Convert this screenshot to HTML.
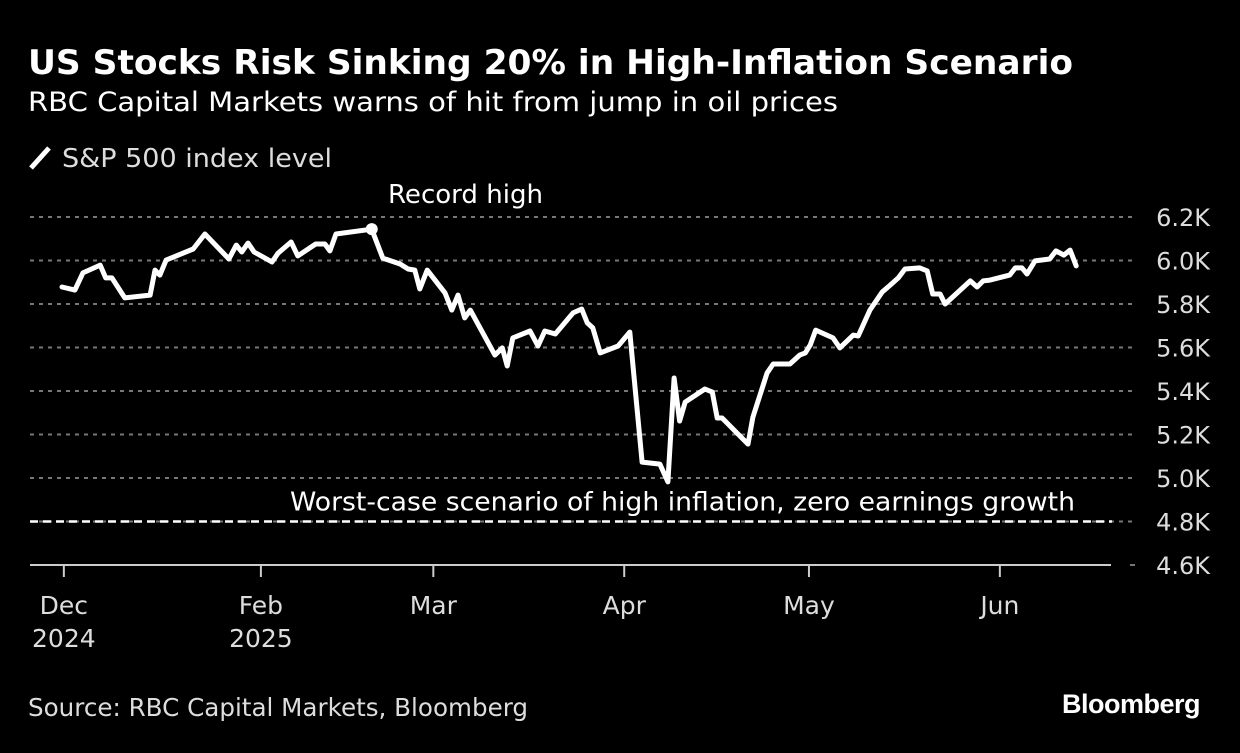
<!DOCTYPE html>
<html><head><meta charset="utf-8"><style>
html,body{margin:0;padding:0;background:#000;}
body{width:1240px;height:748px;overflow:hidden;font-family:"Liberation Sans","DejaVu Sans",sans-serif;}
</style></head><body>
<svg id="chart" width="1240" height="748" viewBox="0 0 1240 748" xmlns="http://www.w3.org/2000/svg" font-family="'DejaVu Sans','Liberation Sans',sans-serif">
<text x="28" y="74" fill="#fff" font-size="34" font-weight="bold" textLength="1045" lengthAdjust="spacingAndGlyphs">US Stocks Risk Sinking 20% in High-Inflation Scenario</text>
<text x="28" y="111" fill="#fff" font-size="27" textLength="810" lengthAdjust="spacingAndGlyphs">RBC Capital Markets warns of hit from jump in oil prices</text>
<g>
<line x1="31" y1="168" x2="49" y2="148" stroke="#fff" stroke-width="5"/>
<text x="62" y="167" fill="#ddd" font-size="26" textLength="270" lengthAdjust="spacingAndGlyphs">S&amp;P 500 index level</text>
</g>
<g id="grid"></g>
<g id="axes"></g>
<g id="marks"></g>
<text x="28" y="716" fill="#ddd" font-size="25" textLength="500" lengthAdjust="spacingAndGlyphs">Source: RBC Capital Markets, Bloomberg</text>
<text x="1200" y="713" text-anchor="end" fill="#fff" font-size="27" font-weight="bold" font-family="'Liberation Sans',sans-serif" letter-spacing="-0.5">Bloomberg</text>
</svg>
<script>
// Data: days since Jan 1 2025 and S&P 500 levels
const dayOffsets = [-1.3,0.8,2.1,4.9,5.8,6.8,8.9,13,13.8,14.6,15.6,20,21.9,25.8,27,27.9,28.9,29.9,32.8,33.8,35.9,37,39.9,41.4,42.2,43.2,49,50.8,53.6,54.9,56,56.8,58,60.9,62,63,64.1,65,69,70.2,71,71.9,74.7,76,77.1,78.8,81.7,83.1,84,84.9,86.1,89,90.9,92.9,95.8,97.1,98.1,99,99.9,103.1,104.3,105.1,105.9,110.1,110.9,113.2,114.2,116.9,118.5,119.4,120.2,121.1,123.9,125,127.2,128,129.9,131.9,133.2,134.5,135.6,138,139.2,140.1,141.3,142.1,146.2,147.3,148.3,149.4,152.6,153.5,154.6,155.4,156.7,159.1,160.1,161.4,162.4,163.4];
const spxValues = [5878,5864,5943,5979,5920,5920,5828,5841,5956,5933,6002,6053,6122,6007,6071,6039,6080,6039,5993,6034,6085,6021,6076,6076,6044,6122,6144,6011,5984,5961,5956,5869,5956,5851,5772,5841,5736,5772,5565,5598,5515,5644,5676,5607,5676,5662,5759,5777,5713,5690,5575,5607,5671,5073,5064,4982,5460,5262,5349,5409,5395,5276,5276,5156,5280,5483,5524,5524,5565,5575,5611,5680,5644,5598,5657,5653,5772,5855,5887,5920,5961,5966,5952,5846,5846,5800,5906,5878,5906,5910,5933,5966,5966,5938,5998,6007,6044,6025,6048,5975];
const yTicks = [6200,6000,5800,5600,5400,5200,5000,4800,4600];
const yTickLabels = ["6.2K","6.0K","5.8K","5.6K","5.4K","5.2K","5.0K","4.8K","4.6K"];
const xTickDays = [-1,31,59,90,120,151];
const xTickLabels = [["Dec","2024"],["Feb","2025"],["Mar"],["Apr"],["May"],["Jun"]];
const recordHighDay = 49, recordHighValue = 6144;
const worstCaseValue = 4800;

const NS="http://www.w3.org/2000/svg";
function yScale(v){return 217+(6200-v)/200*43.5;}
function xScale(d){return 70+d*6.158;}
function mk(tag,attrs,parent){const e=document.createElementNS(NS,tag);for(const k in attrs)e.setAttribute(k,attrs[k]);parent.appendChild(e);return e;}
const grid=document.getElementById('grid'),axes=document.getElementById('axes'),marks=document.getElementById('marks');

yTicks.forEach((v,i)=>{
  const y=yScale(v);
  if(v!==4600){
    const l=mk('line',{x1:30,x2:1135,y1:y,y2:y,stroke:'#777','stroke-width':2,'stroke-dasharray':'4 5'},grid);
    
    
  } else {
    const l=mk('line',{x1:1130,x2:1135,y1:y,y2:y,stroke:'#777','stroke-width':2},grid);
    
    
  }
  const t=mk('text',{x:1210,y:y+9,'text-anchor':'end',fill:'#ddd','font-size':24},axes);
  t.textContent=yTickLabels[i];
  
  
});
const ax=mk('line',{x1:30,x2:1111,y1:yScale(4600),y2:yScale(4600),stroke:'#ccc','stroke-width':2},axes);


xTickDays.forEach((d,i)=>{
  const x=xScale(d);
  const tk=mk('line',{x1:x,x2:x,y1:yScale(4600),y2:yScale(4600)+12,stroke:'#ccc','stroke-width':2},axes);
  
  
  xTickLabels[i].forEach((s,j)=>{
    const t=mk('text',{x:x,y:614+j*33,'text-anchor':'middle',fill:'#ddd','font-size':25},axes);
    t.textContent=s;
    
    
  });
});
// worst case line
const wy=yScale(worstCaseValue);
const wl=mk('line',{x1:30,x2:1112,y1:wy,y2:wy,stroke:'#fff','stroke-width':2.5,'stroke-dasharray':'8 5'},marks);


const wt=mk('text',{x:1075,y:wy-11,'text-anchor':'end',fill:'#fff','font-size':26,textLength:785,lengthAdjust:'spacingAndGlyphs'},marks);
wt.textContent='Worst-case scenario of high inflation, zero earnings growth';


// series
const pts=dayOffsets.map((d,i)=>xScale(d).toFixed(1)+','+yScale(spxValues[i]).toFixed(1)).join(' ');
const pl=mk('polyline',{points:pts,fill:'none',stroke:'#fff','stroke-width':5,'stroke-linejoin':'round','stroke-linecap':'round'},marks);


const dot=mk('circle',{cx:xScale(recordHighDay),cy:yScale(recordHighValue),r:6,fill:'#fff'},marks);


const rt=mk('text',{x:388,y:yScale(recordHighValue)-26,fill:'#fff','font-size':26,textLength:155,lengthAdjust:'spacingAndGlyphs'},marks);
rt.textContent='Record high';


</script>
</body></html>
